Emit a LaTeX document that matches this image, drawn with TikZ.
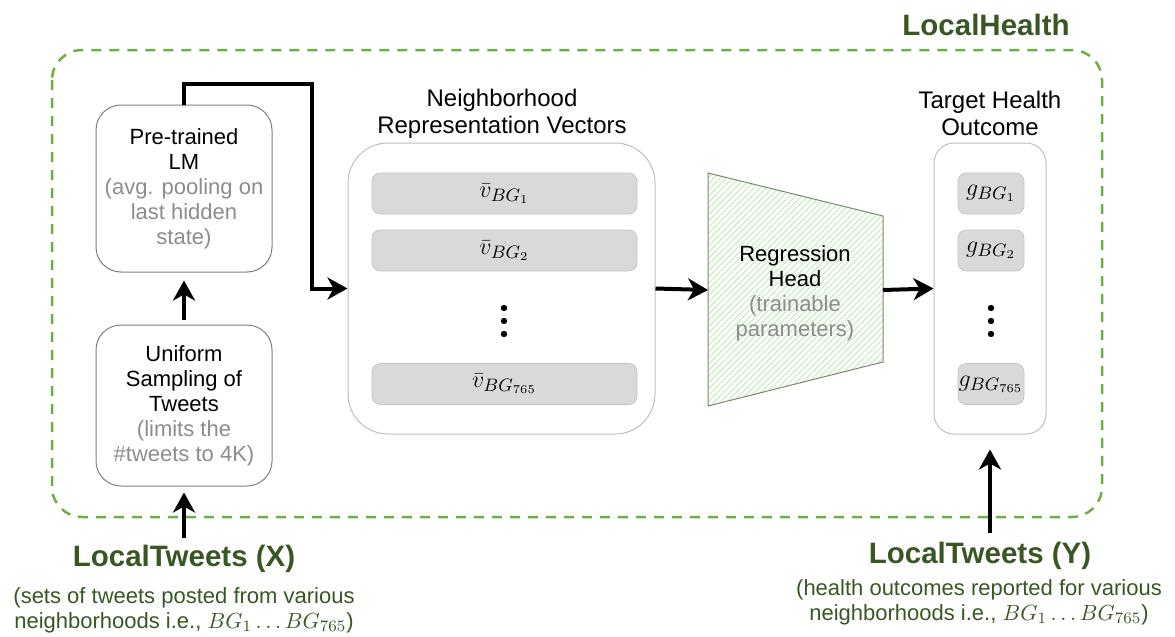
\documentclass[tikz,border=0pt]{standalone}
\usepackage{fontspec}
\setmainfont{Liberation Sans}
\usetikzlibrary{arrows.meta,patterns.meta}

\definecolor{dgreen}{HTML}{385723}
\definecolor{lgreen}{HTML}{70AD47}
\definecolor{hatchgreen}{HTML}{C9E0BC}
\definecolor{notegray}{HTML}{8C8C8C}
\definecolor{boxgray}{HTML}{7F7F7F}
\definecolor{lightgray}{HTML}{BFBFBF}
\definecolor{barfill}{HTML}{D9D9D9}

\newcommand\boxfont{\fontsize{11}{12.5}\selectfont}
\newcommand\barfont{\fontsize{13}{15}\selectfont}
\newcommand\headfont{\fontsize{12}{13.5}\selectfont}
\newcommand\bigfont{\fontsize{14.75}{17}\selectfont\bfseries}

\tikzset{
  box/.style={draw=boxgray, line width=0.5pt, rounded corners=12.5pt, inner sep=0pt, align=center, font=\boxfont},
  stack/.style={draw=lightgray, line width=0.5pt, inner sep=0pt},
  bar/.style={fill=barfill, draw=barfill!90!black, line width=0.3pt, rounded corners=4pt, inner sep=0pt, minimum height=20.5pt, font=\barfont},
  note/.style={text=notegray},
  arr/.style={line width=2pt, -{Stealth[length=10pt,width=11pt,inset=3pt]}},
  green title/.style={text=dgreen, font=\bigfont},
  green note/.style={text=dgreen, font=\boxfont, align=center}
}

\begin{document}
\begin{tikzpicture}[x=0.5pt, y=-0.5pt]
  \useasboundingbox (0,0) rectangle (1175,637);

  % LocalHealth frame
  \draw[lgreen, line width=1.25pt, dash pattern=on 5pt off 4pt, rounded corners=15pt] (52,50) rectangle (1102,517);
  \node[green title] (lh) at (986,25) {LocalHealth};

  % left column
  \node[box, minimum width=88pt, minimum height=83.5pt] (lm) at (184,188.5)
    {Pre-trained\\LM\\\textcolor{notegray}{(avg. pooling on}\\\textcolor{notegray}{last hidden}\\\textcolor{notegray}{state)}};
  \node[box, minimum width=88pt, minimum height=80.5pt] (samp) at (184,405.5)
    {Uniform\\Sampling of\\Tweets\\\textcolor{notegray}{(limits the}\\\textcolor{notegray}{\#tweets to 4K)}};

  % vectors and targets
  \node[stack, rounded corners=20pt, minimum width=153.5pt, minimum height=145.5pt] (nrv) at (501.5,288.5) {};
  \node[font=\headfont, align=center] (nrvt) at (502,113.5) {Neighborhood\\Representation Vectors};
  \node[stack, rounded corners=10pt, minimum width=56pt, minimum height=145.5pt] (tho) at (990,288.5) {};
  \node[font=\headfont, align=center] (thot) at (990,113.5) {Target Health\\Outcome};
  \foreach \n/\y/\sub in {1/193.5/1, 2/250.5/2, 3/384/765} {
    \node[bar, minimum width=132.5pt] (vb\n) at (504.5,\y) {$\bar{v}_{BG_{\sub}}$};
    \node[bar, minimum width=33pt] (gb\n) at (991,\y) {$g_{BG_{\sub}}$};
  }
  \foreach \y in {308,321,334} {
    \fill (504,\y) circle (1.6pt);
    \fill (991,\y) circle (1.6pt);
  }

  % regression head
  \draw[draw=boxgray!80!lgreen, line width=0.5pt, preaction={fill=green!3},
    pattern={Lines[angle=45,distance=2.2pt,line width=0.35pt]}, pattern color=hatchgreen]
    (708,173) -- (883,216) -- (883,362) -- (708,406) -- cycle;
  \node[font=\boxfont, align=center] (rh) at (795,293)
    {Regression\\Head\\\textcolor{notegray}{(trainable}\\\textcolor{notegray}{parameters)}};
  \coordinate (rhin) at (708,290);
  \coordinate (rhout) at (883,290);

  % data
  \node[green title] (ltx) at (184,559) {LocalTweets (X)};
  \node[green note] (ltxn) at (184,610) {(sets of tweets posted from various\\neighborhoods i.e., $BG_1 \ldots BG_{765}$)};
  \node[green title] (lty) at (980,556) {LocalTweets (Y)};
  \node[green note] (ltyn) at (979,602) {(health outcomes reported for various\\neighborhoods i.e., $BG_1 \ldots BG_{765}$)};
  \coordinate (xin) at (184,538);
  \coordinate (yin) at (990,533);

  % connectors
  \draw[arr, shorten >=3pt] (xin) -- (samp.south);
  \draw[arr, shorten <=2.5pt, shorten >=4pt] (samp.north) -- (lm.south);
  \draw[arr] (lm.north) |- (312,84) |- (nrv.west);
  \draw[arr] (nrv.east) -- (rhin);
  \draw[arr] (rhout) -- (tho.west);
  \draw[arr, shorten >=7.5pt] (yin) -- (tho.south);
\end{tikzpicture}
\end{document}
